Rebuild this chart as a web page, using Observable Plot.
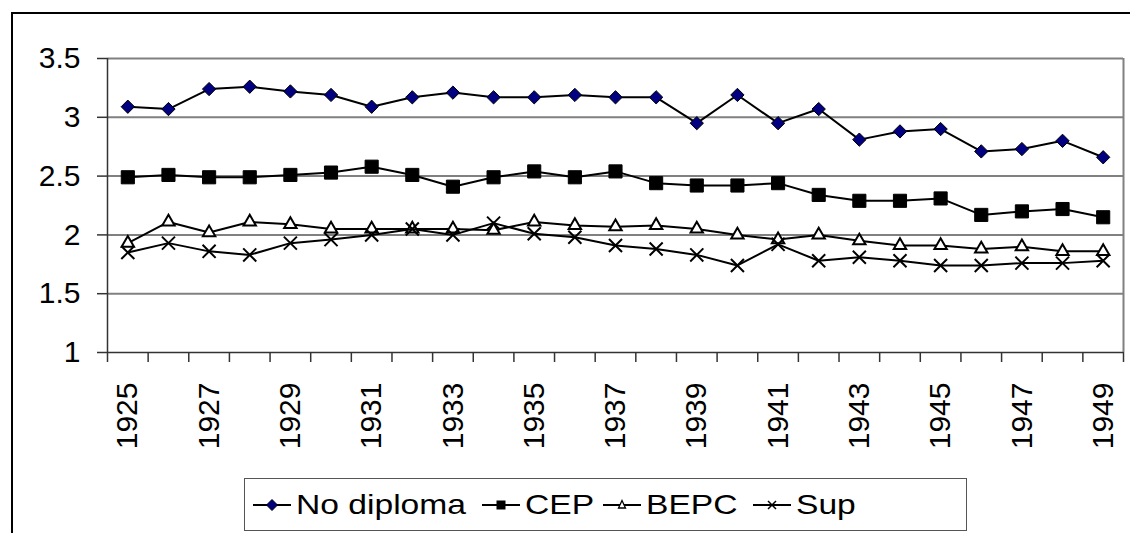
<!DOCTYPE html>
<html>
<head>
<meta charset="utf-8">
<script src="https://cdn.jsdelivr.net/npm/d3@7"></script>
<script src="https://cdn.jsdelivr.net/npm/@observablehq/plot@0.6"></script>
<style>
  html, body { margin: 0; padding: 0; background: #fff; overflow: hidden; width: 1130px; height: 533px; }
  #wrap { position: relative; width: 1130px; height: 533px; font-family: "Liberation Sans", Arial, sans-serif; }
  #frame { position: absolute; left: 11px; top: 12px; width: 1300px; height: 700px; border: 2px solid #000; box-sizing: border-box; }
  #chart { position: absolute; left: 0; top: 0; }
  #legend { position: absolute; left: 244px; top: 478px; width: 723px; height: 53px; border: 1px solid #555; box-sizing: border-box; background: #fff; }
  .item { position: absolute; top: 0; height: 51px; display: flex; align-items: center; }
  .item svg { display: block; }
  .item span { display: inline-block; font-size: 28px; transform: scaleX(1.2); transform-origin: left center; margin-left: 5px; color: #000; }
</style>
</head>
<body>
<div id="wrap">
  <div id="frame"></div>
  <div id="chart"></div>
  <div id="legend"></div>
</div>
<script>
const years = [1925,1926,1927,1928,1929,1930,1931,1932,1933,1934,1935,1936,1937,1938,1939,1940,1941,1942,1943,1944,1945,1946,1947,1948,1949];
const labelYears = [1925,1927,1929,1931,1933,1935,1937,1939,1941,1943,1945,1947,1949];
const yTicks = [1,1.5,2,2.5,3,3.5];
const seriesNames = ["No diploma","CEP","BEPC","Sup"];
const noDiploma = [3.09,3.07,3.24,3.26,3.22,3.19,3.09,3.17,3.21,3.17,3.17,3.19,3.17,3.17,2.95,3.19,2.95,3.07,2.81,2.88,2.90,2.71,2.73,2.80,2.66];
const cep = [2.49,2.51,2.49,2.49,2.51,2.53,2.58,2.51,2.41,2.49,2.54,2.49,2.54,2.44,2.42,2.42,2.44,2.34,2.29,2.29,2.31,2.17,2.20,2.22,2.15];
const bepc = [1.93,2.11,2.02,2.11,2.09,2.05,2.05,2.05,2.05,2.04,2.11,2.08,2.07,2.08,2.05,2.00,1.96,2.00,1.95,1.91,1.91,1.88,1.90,1.86,1.86];
const sup = [1.85,1.93,1.86,1.83,1.93,1.96,2.00,2.05,2.00,2.10,2.01,1.98,1.91,1.88,1.83,1.74,1.92,1.78,1.81,1.78,1.74,1.74,1.76,1.76,1.78];

const allSeries = [noDiploma, cep, bepc, sup];
const rows = [];
seriesNames.forEach((name, i) => {
  years.forEach((yr, j) => rows.push({series: name, year: yr, value: allSeries[i][j]}));
});
const byName = n => rows.filter(d => d.series === n);

// category boundaries for tick marks (between years)
const boundaries = years.map(y => y - 0.5).concat([years[years.length - 1] + 0.5]);
const xDomain = [boundaries[0], boundaries[boundaries.length - 1]];

const font = "Liberation Sans, Arial, sans-serif";

const chart = Plot.plot({
  width: 1130,
  height: 478,
  marginLeft: 107,
  marginRight: 7,
  marginTop: 58,
  marginBottom: 126,
  style: {background: "transparent", fontFamily: font, overflow: "visible"},
  x: {type: "linear", domain: xDomain},
  y: {domain: [1, 3.5]},
  marks: [
    Plot.gridY(yTicks.slice(1), {stroke: "#808080", strokeOpacity: 1, strokeWidth: 2}),
    Plot.ruleX([xDomain[1]], {stroke: "#808080", strokeWidth: 2}),
    Plot.ruleX([xDomain[0]], {stroke: "#333", strokeWidth: 1.5}),
    Plot.ruleY([1], {stroke: "#333", strokeWidth: 1.5}),
    Plot.axisY({ticks: yTicks, tickSize: 10, tickPadding: 17, fontSize: 30, stroke: "#333", strokeWidth: 1.5, fill: "#000", label: null, tickFormat: d => String(d)}),
    Plot.axisX({ticks: boundaries, tickSize: 10, stroke: "#333", strokeWidth: 1.5, tickFormat: () => "", label: null}),
    Plot.axisX({ticks: labelYears, tickSize: 0, tickPadding: 30, tickRotate: -90, fontSize: 30, fill: "#000", tickFormat: d => String(d), label: null}),
    // No diploma
    Plot.line(byName("No diploma"), {x: "year", y: "value", stroke: "#000", strokeWidth: 2}),
    Plot.dot(byName("No diploma"), {x: "year", y: "value", symbol: "diamond2", r: 6, fill: "#000080", stroke: "#000", strokeWidth: 1}),
    // CEP
    Plot.line(byName("CEP"), {x: "year", y: "value", stroke: "#000", strokeWidth: 2}),
    Plot.dot(byName("CEP"), {x: "year", y: "value", symbol: "square", r: 7.4, fill: "#000", stroke: "#000", strokeWidth: 1}),
    // BEPC
    Plot.line(byName("BEPC"), {x: "year", y: "value", stroke: "#000", strokeWidth: 2}),
    Plot.dot(byName("BEPC"), {x: "year", y: "value", symbol: "triangle", r: 4.6, fill: "#fff", stroke: "#000", strokeWidth: 2}),
    // Sup
    Plot.line(byName("Sup"), {x: "year", y: "value", stroke: "#000", strokeWidth: 2}),
    Plot.dot(byName("Sup"), {x: "year", y: "value", symbol: "times", r: 6, stroke: "#000", strokeWidth: 2})
  ]
});
document.getElementById("chart").appendChild(chart);

// Legend
const legend = document.getElementById("legend");
const legendLefts = [8, 237, 358, 508];
const markerSvg = [
  '<polygon points="19,1.5 24.5,7 19,12.5 13.5,7" fill="#000080" stroke="#000" stroke-width="1"/>',
  '<rect x="14.5" y="2.5" width="9" height="9" fill="#000"/>',
  '<polygon points="19,2.5 22.5,10 15.5,10" fill="#fff" stroke="#000" stroke-width="1.3"/>',
  '<path d="M15,3 L23,11 M23,3 L15,11" stroke="#000" stroke-width="1.5"/>'
];
seriesNames.forEach((name, i) => {
  const div = document.createElement("div");
  div.className = "item";
  div.style.left = legendLefts[i] + "px";
  div.innerHTML = '<svg width="38" height="14" viewBox="0 0 38 14"><line x1="0" y1="7" x2="38" y2="7" stroke="#000" stroke-width="2"/>' + markerSvg[i] + '</svg><span>' + name + '</span>';
  legend.appendChild(div);
});
</script>
</body>
</html>
